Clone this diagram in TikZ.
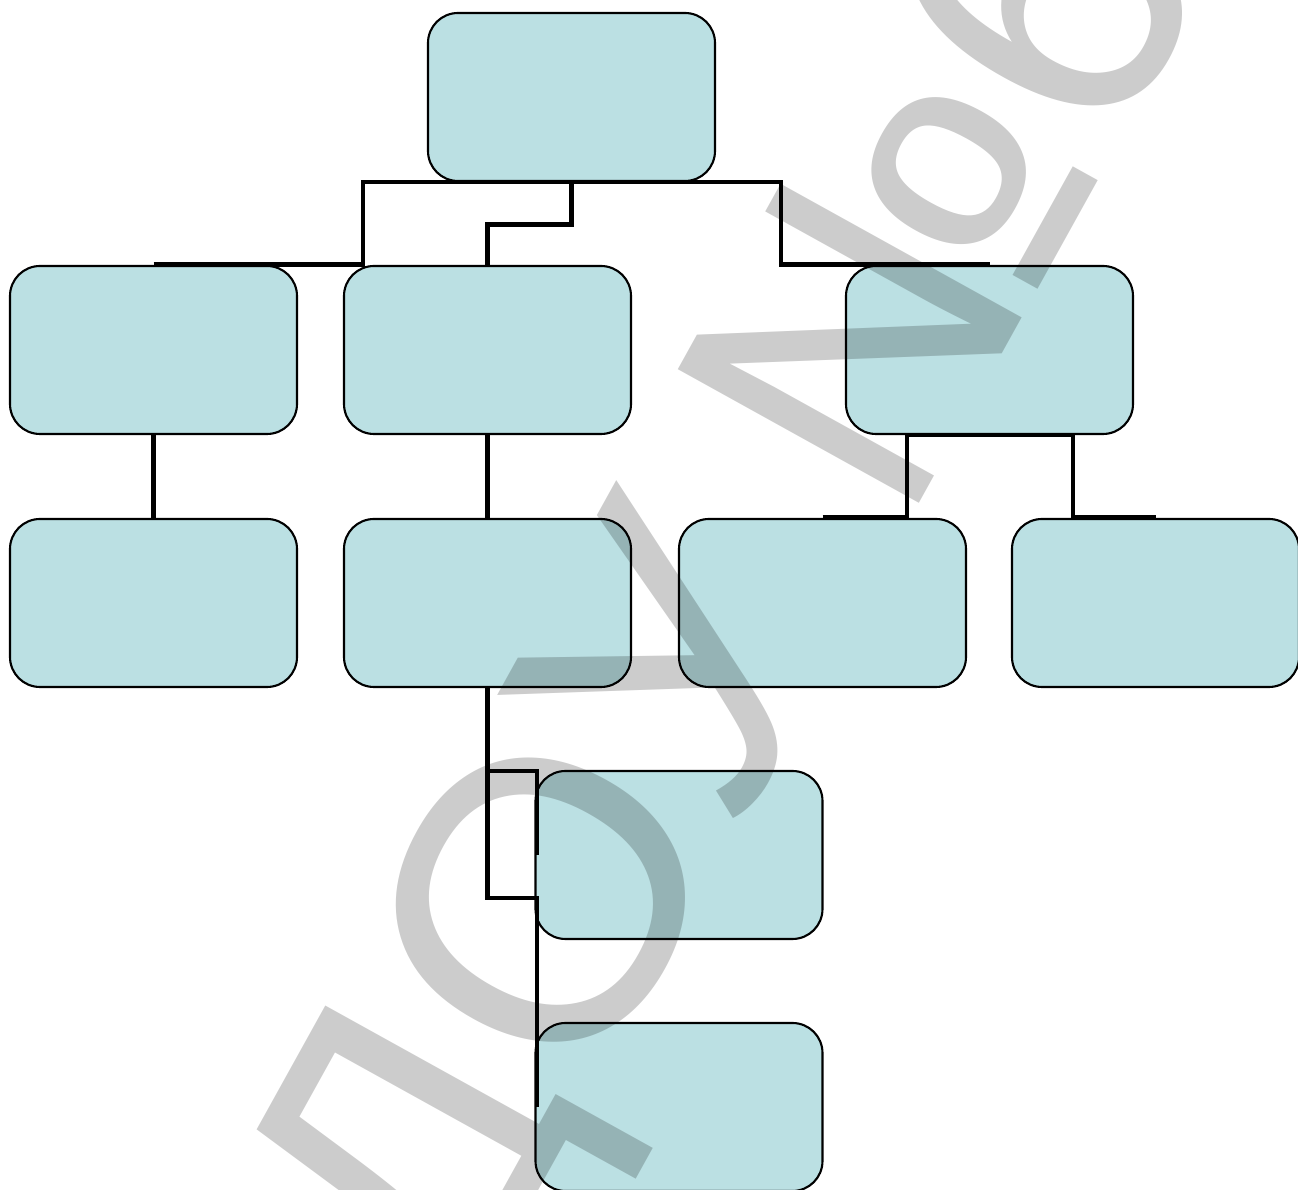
\documentclass[tikz,border=0pt]{standalone}
\usepackage{fontspec}
\newfontfamily\markfont{Liberation Sans}
\usepackage{xcolor}
\usepackage{tikz}

\definecolor{boxfill}{RGB}{187,224,227}
\tikzset{
  unit/.style={draw=black, line width=0.6pt, fill=boxfill, rounded corners=0.3cm,
    minimum width=2.87cm, minimum height=1.68cm, inner sep=0pt},
  link/.style={black, line width=1.4pt}
}

\begin{document}
\begin{tikzpicture}
\useasboundingbox (0,0) rectangle (12.98,-11.90);
% Draw boxes
\node[unit] (head) at (5.715,-0.97) {};
\node[unit] (left) at (1.535,-3.50) {};
\node[unit] (mid) at (4.875,-3.50) {};
\node[unit] (right) at (9.895,-3.50) {};
\node[unit] (leftsub) at (1.535,-6.03) {};
\node[unit] (midsub) at (4.875,-6.03) {};
\node[unit] (rightsuba) at (8.225,-6.03) {};
\node[unit] (rightsubb) at (11.555,-6.03) {};
\node[unit] (lowa) at (6.79,-8.55) {};
\node[unit] (lowb) at (6.79,-11.07) {};

% Junction points
\coordinate (jl) at (3.63,-1.82);
\coordinate (jr) at (7.81,-1.82);
\coordinate (kl) at (9.07,-4.35);
\coordinate (kr) at (10.73,-4.35);
\coordinate (ja) at (5.37,-7.71);
\coordinate (jb) at (5.37,-8.98);

% Links between levels
\draw[link] (left.north) -- (left.north -| jl) -- (jl) -- (jr) -- (jr |- right.north) -- (right.north);
\draw[link] (head.south) -- ++(0,-0.42) -| (mid.north);
\draw[link] (left.south) -- (leftsub.north);
\draw[link] (mid.south) -- (midsub.north);
\draw[link] (rightsuba.north) -- (rightsuba.north -| kl) -- (kl) -- (kr) -- (kr |- rightsubb.north) -- (rightsubb.north);
\draw[link] (midsub.south) -- (midsub.south |- jb) -- (jb) -- (jb |- lowb.west);
\draw[link] (midsub.south |- ja) -- (ja) -- (ja |- lowa.west);

% Watermark
\node[opacity=0.2, rotate=61, inner sep=0pt, font=\markfont\fontsize{114}{116}\selectfont] (mark) at (7.49,-6.04) {ДОУ\kern0.23em№6};
\end{tikzpicture}
\end{document}
